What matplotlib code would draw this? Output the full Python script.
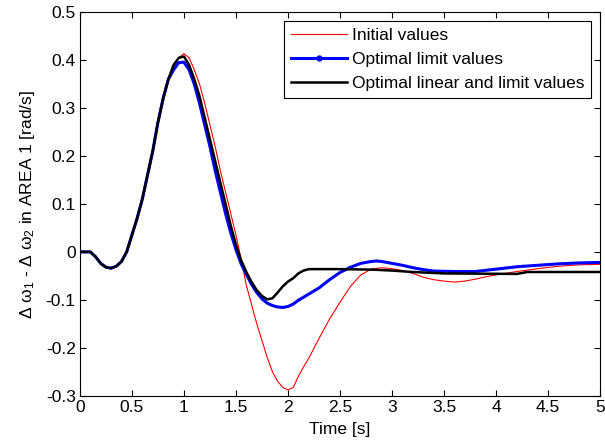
import matplotlib
matplotlib.use("Agg")
import matplotlib.pyplot as plt
from matplotlib.lines import Line2D

plt.rcParams['font.family'] = ['Liberation Sans', 'DejaVu Sans']
plt.rcParams['mathtext.fontset'] = 'custom'
plt.rcParams['mathtext.rm'] = 'Liberation Sans'
plt.rcParams['mathtext.it'] = 'Liberation Sans'
plt.rcParams['axes.unicode_minus'] = False

# ===== Data =====
t_start = [0.0, 0.1, 0.15, 0.2, 0.25, 0.3, 0.35, 0.4, 0.45, 0.5, 0.55, 0.6,
           0.65, 0.7, 0.75, 0.8, 0.85]
y_start = [0.0, 0.0, -0.01, -0.024, -0.032, -0.034, -0.03, -0.02, 0.0, 0.035,
           0.07, 0.11, 0.16, 0.21, 0.27, 0.32, 0.36]

t_initial = [0.9, 0.95, 1.0, 1.05, 1.1, 1.15, 1.2, 1.25, 1.3, 1.35, 1.4, 1.45,
             1.5, 1.55, 1.6, 1.65, 1.7, 1.75, 1.8, 1.85, 1.9, 1.95, 2.0, 2.05,
             2.1, 2.15, 2.2, 2.3, 2.4, 2.5, 2.6, 2.7, 2.8, 2.9, 3.0, 3.1, 3.2,
             3.3, 3.4, 3.5, 3.6, 3.7, 3.8, 3.9, 4.0, 4.2, 4.4, 4.6, 4.8, 5.0]
y_initial = [0.385, 0.405, 0.414, 0.405, 0.38, 0.35, 0.31, 0.265, 0.22, 0.17,
             0.125, 0.08, 0.035, -0.015, -0.07, -0.11, -0.15, -0.185, -0.22,
             -0.25, -0.27, -0.283, -0.288, -0.283, -0.26, -0.24, -0.222, -0.18,
             -0.14, -0.105, -0.072, -0.048, -0.036, -0.033, -0.035, -0.039,
             -0.045, -0.053, -0.058, -0.061, -0.063, -0.061, -0.057, -0.052,
             -0.048, -0.041, -0.035, -0.03, -0.027, -0.026]

t_limit = [0.9, 0.95, 1.0, 1.05, 1.1, 1.15, 1.2, 1.25, 1.3, 1.35, 1.4, 1.45,
           1.5, 1.55, 1.6, 1.65, 1.7, 1.75, 1.8, 1.85, 1.9, 1.95, 2.0, 2.05,
           2.1, 2.2, 2.3, 2.4, 2.5, 2.6, 2.7, 2.8, 2.85, 2.9, 3.0, 3.1, 3.2,
           3.3, 3.4, 3.6, 3.8, 4.0, 4.2, 4.4, 4.6, 4.8, 5.0]
y_limit = [0.38, 0.395, 0.396, 0.38, 0.35, 0.31, 0.265, 0.22, 0.17, 0.125,
           0.08, 0.04, 0.005, -0.025, -0.047, -0.068, -0.085, -0.098, -0.107,
           -0.112, -0.115, -0.116, -0.114, -0.109, -0.101, -0.088, -0.075,
           -0.058, -0.043, -0.032, -0.024, -0.02, -0.019, -0.02, -0.024,
           -0.028, -0.033, -0.037, -0.04, -0.041, -0.041, -0.036, -0.031,
           -0.028, -0.025, -0.023, -0.022]

t_linear = [0.9, 0.95, 1.0, 1.05, 1.1, 1.15, 1.2, 1.25, 1.3, 1.35, 1.4, 1.45,
            1.5, 1.55, 1.6, 1.65, 1.7, 1.75, 1.8, 1.85, 1.9, 1.95, 2.0, 2.05,
            2.1, 2.15, 2.2, 2.5, 2.8, 3.0, 3.2, 3.5, 4.2, 4.3, 5.0]
y_linear = [0.39, 0.405, 0.408, 0.39, 0.36, 0.325, 0.28, 0.235, 0.19, 0.145,
            0.1, 0.055, 0.015, -0.018, -0.042, -0.063, -0.08, -0.092, -0.099,
            -0.097, -0.085, -0.072, -0.062, -0.055, -0.045, -0.039, -0.036,
            -0.036, -0.037, -0.039, -0.042, -0.045, -0.046, -0.042, -0.042]

x_ticks = [0, 0.5, 1, 1.5, 2, 2.5, 3, 3.5, 4, 4.5, 5]
x_labels = ["0", "0.5", "1", "1.5", "2", "2.5", "3", "3.5", "4", "4.5", "5"]
y_ticks = [-0.3, -0.2, -0.1, 0, 0.1, 0.2, 0.3, 0.4, 0.5]
y_labels = ["-0.3", "-0.2", "-0.1", "0", "0.1", "0.2", "0.3", "0.4", "0.5"]

# ===== Plot =====
fig = plt.figure(figsize=(6.05, 4.42), dpi=100)
ax = fig.add_axes([0.132, 0.105, 0.86, 0.867])

ax.plot(t_start + t_initial, y_start + y_initial, color='red', lw=0.8)
ax.plot(t_start + t_limit, y_start + y_limit, color='blue', lw=2.2)
ax.plot(t_start + t_linear, y_start + y_linear, color='black', lw=1.8)

ax.set_xlim(0, 5)
ax.set_ylim(-0.3, 0.5)
ax.set_xticks(x_ticks)
ax.set_xticklabels(x_labels)
ax.set_yticks(y_ticks)
ax.set_yticklabels(y_labels)
ax.tick_params(direction='in', top=True, right=True, labelsize=12.5, length=4, pad=3)
for s in ax.spines.values():
    s.set_linewidth(0.8)

ax.set_xlabel("Time [s]", fontsize=12.5, labelpad=5)
ax.set_ylabel("Δ ω$_1$ - Δ ω$_2$ in AREA 1 [rad/s]", fontsize=12.5, labelpad=6)

handles = [
    Line2D([], [], color='red', lw=0.8),
    Line2D([], [], color='blue', lw=2.2, marker='.', markersize=7),
    Line2D([], [], color='black', lw=1.8),
]
names = ["Initial values", "Optimal limit values", "Optimal linear and limit values"]
leg = ax.legend(handles, names, loc='upper right', fontsize=12.5, fancybox=False,
                framealpha=1, edgecolor='black', borderpad=0.4, labelspacing=0.5,
                handlelength=3.2, handletextpad=0.3, borderaxespad=0.5)
leg.get_frame().set_linewidth(0.8)

fig.savefig("out.png", dpi=100)
